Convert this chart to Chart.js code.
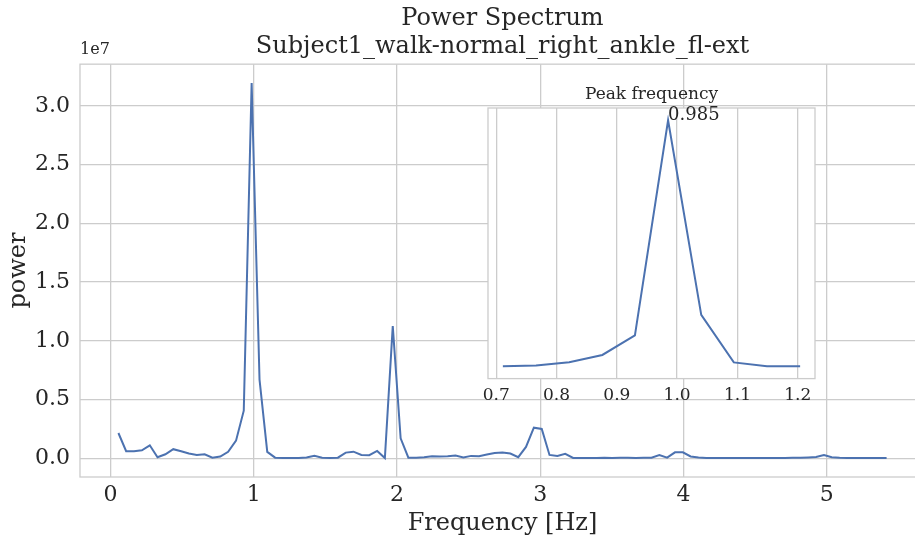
<!DOCTYPE html>
<html>
<head>
<meta charset="utf-8">
<script src="https://cdn.jsdelivr.net/npm/chart.js@4.4.0/dist/chart.umd.min.js"></script>
<style>
  html, body { margin: 0; padding: 0; background: #ffffff; overflow: hidden; }
  #wrap { position: relative; width: 915px; height: 540px; overflow: hidden; }
  #mainChart { position: absolute; left: 0; top: 0; }
  #insetChart { position: absolute; left: 470px; top: 80px; }
</style>
</head>
<body>
<div id="wrap">
  <!-- the axes run a little past the right edge, as in the cropped original -->
  <canvas id="mainChart" width="925" height="540"></canvas>
  <canvas id="insetChart" width="360" height="333"></canvas>
</div>
<script>
// #-------------- Data --------------#

// FFT bin frequencies (Hz)
const freqHz = [
  0.055, 0.109, 0.164, 0.219, 0.274, 0.328, 0.383, 0.438, 0.493, 0.547,
  0.602, 0.657, 0.711, 0.766, 0.821, 0.876, 0.930, 0.985, 1.040, 1.094,
  1.149, 1.204, 1.259, 1.313, 1.368, 1.423, 1.477, 1.532, 1.587, 1.642,
  1.696, 1.751, 1.806, 1.861, 1.915, 1.970, 2.025, 2.079, 2.134, 2.189,
  2.244, 2.298, 2.353, 2.408, 2.463, 2.517, 2.572, 2.627, 2.681, 2.736,
  2.791, 2.846, 2.900, 2.955, 3.010, 3.064, 3.119, 3.174, 3.229, 3.283,
  3.338, 3.393, 3.447, 3.502, 3.557, 3.612, 3.666, 3.721, 3.776, 3.831,
  3.885, 3.940, 3.995, 4.049, 4.104, 4.159, 4.214, 4.268, 4.323, 4.378,
  4.433, 4.487, 4.542, 4.597, 4.651, 4.706, 4.761, 4.816, 4.870, 4.925,
  4.980, 5.034, 5.089, 5.144, 5.199, 5.253, 5.308, 5.363, 5.417
];

// Power per bin, in units of 1e6
const powerE6 = [
  2.15, 0.60, 0.60, 0.68, 1.10, 0.08, 0.34, 0.77, 0.60, 0.40,
  0.28, 0.34, 0.05, 0.14, 0.55, 1.50, 4.05, 31.97, 6.70, 0.54,
  0.05, 0.03, 0.03, 0.03, 0.06, 0.20, 0.05, 0.01, 0.05, 0.48,
  0.56, 0.28, 0.26, 0.62, 0.02, 11.25, 1.70, 0.05, 0.05, 0.08,
  0.17, 0.14, 0.17, 0.23, 0.06, 0.20, 0.17, 0.31, 0.45, 0.48,
  0.40, 0.09, 0.96, 2.60, 2.50, 0.28, 0.20, 0.37, 0.03, 0.02,
  0.03, 0.02, 0.04, 0.03, 0.05, 0.04, 0.03, 0.04, 0.05, 0.27,
  0.05, 0.50, 0.50, 0.15, 0.06, 0.03, 0.02, 0.03, 0.02, 0.02,
  0.03, 0.02, 0.03, 0.03, 0.02, 0.03, 0.04, 0.05, 0.07, 0.10,
  0.28, 0.08, 0.04, 0.03, 0.03, 0.02, 0.03, 0.02, 0.03
];

// Tick values
const mainXTicks  = [0, 1, 2, 3, 4, 5];
const mainYTicks  = [0, 0.5e7, 1.0e7, 1.5e7, 2.0e7, 2.5e7, 3.0e7];
const insetXTicks = [0.7, 0.8, 0.9, 1.0, 1.1, 1.2];

// Inset window (bins shown around the peak)
const insetFirstBin = 12;
const insetLastBin  = 21;

// Texts
const titleLines  = ['Power Spectrum', 'Subject1_walk-normal_right_ankle_fl-ext'];
const xLabel      = 'Frequency [Hz]';
const yLabel      = 'power';
const insetTitle  = 'Peak frequency';

// #-------------- Styling --------------#
const serif     = "'DejaVu Serif', serif";
const textColor = '#262626';
const gridColor = '#cccccc';
const lineColor = '#4c72b0';

// #-------------- Helpers --------------#
const powerValues = powerE6.map(v => v * 1e6);
const mainPoints  = freqHz.map((f, i) => ({ x: f, y: powerValues[i] }));
const insetPoints = mainPoints.slice(insetFirstBin, insetLastBin + 1);

// matplotlib style 5% margins
function withMargin(lo, hi) {
  const pad = (hi - lo) * 0.05;
  return [lo - pad, hi + pad];
}
const [mainXMin, mainXMax] = withMargin(freqHz[0], freqHz[freqHz.length - 1]);
const [mainYMin, mainYMax] = withMargin(0, Math.max(...powerValues));
const [inXMin, inXMax]     = withMargin(insetPoints[0].x, insetPoints[insetPoints.length - 1].x);
const [inYMin, inYMax]     = withMargin(Math.min(...insetPoints.map(p => p.y)),
                                        Math.max(...insetPoints.map(p => p.y)));
const peakPoint = insetPoints.reduce((a, b) => (b.y > a.y ? b : a));

// Light frame around the plotting area
const framePlugin = {
  id: 'frame',
  beforeDraw(chart, args, opts) {
    const a = chart.chartArea, ctx = chart.ctx;
    if (opts.fill) {
      ctx.save();
      ctx.fillStyle = opts.fill;
      ctx.fillRect(a.left, a.top, a.right - a.left, a.bottom - a.top);
      ctx.restore();
    }
  },
  beforeDatasetsDraw(chart) {
    const a = chart.chartArea, ctx = chart.ctx;
    ctx.save();
    ctx.strokeStyle = gridColor;
    ctx.lineWidth = 1.3;
    ctx.strokeRect(a.left, a.top, a.right - a.left, a.bottom - a.top);
    ctx.restore();
  }
};

// "1e7" offset text above the y axis
const offsetTextPlugin = {
  id: 'offsetText',
  afterDraw(chart) {
    const a = chart.chartArea, ctx = chart.ctx;
    ctx.save();
    ctx.font = '16px ' + serif;
    ctx.fillStyle = textColor;
    ctx.textAlign = 'left';
    ctx.textBaseline = 'alphabetic';
    ctx.fillText('1e7', a.left, a.top - 10);
    ctx.restore();
  }
};

// Inset title and peak annotation
const insetTextPlugin = {
  id: 'insetText',
  afterDraw(chart) {
    const a = chart.chartArea, ctx = chart.ctx;
    ctx.save();
    ctx.fillStyle = textColor;
    ctx.font = '17px ' + serif;
    ctx.textAlign = 'center';
    ctx.textBaseline = 'alphabetic';
    ctx.fillText(insetTitle, (a.left + a.right) / 2, a.top - 9);
    const px = chart.scales.x.getPixelForValue(peakPoint.x);
    const py = chart.scales.y.getPixelForValue(peakPoint.y);
    ctx.font = '18px ' + serif;
    ctx.textAlign = 'left';
    ctx.fillText(peakPoint.x.toFixed(3), px, py);
    ctx.restore();
  }
};

// #-------------- Main chart --------------#
new Chart(document.getElementById('mainChart'), {
  type: 'line',
  data: {
    datasets: [{
      data: mainPoints,
      borderColor: lineColor,
      borderWidth: 2,
      pointRadius: 0,
      tension: 0,
      fill: false
    }]
  },
  options: {
    responsive: false,
    animation: false,
    layout: { padding: 0 },
    plugins: {
      legend: { display: false },
      tooltip: { enabled: false },
      title: {
        display: true,
        fullSize: false,
        text: titleLines,
        color: textColor,
        font: { family: serif, size: 24, weight: 'normal', lineHeight: 1.17 },
        padding: { top: 5, bottom: 3 }
      }
    },
    scales: {
      x: {
        type: 'linear',
        min: mainXMin,
        max: mainXMax,
        afterBuildTicks: s => { s.ticks = mainXTicks.map(v => ({ value: v })); },
        afterFit: s => { s.height = 63; },
        grid: { color: gridColor, lineWidth: 1.3, drawTicks: false },
        border: { display: false },
        ticks: { color: textColor, font: { family: serif, size: 22 }, padding: 5,
                 maxRotation: 0, callback: v => String(v) },
        title: { display: true, text: xLabel, color: textColor,
                 font: { family: serif, size: 24 }, padding: { top: 0, bottom: 2 } }
      },
      y: {
        min: mainYMin,
        max: mainYMax,
        afterBuildTicks: s => { s.ticks = mainYTicks.map(v => ({ value: v })); },
        afterFit: s => { s.width = 80; },
        grid: { color: gridColor, lineWidth: 1.3, drawTicks: false },
        border: { display: false },
        ticks: { color: textColor, font: { family: serif, size: 22 }, padding: 10,
                 callback: v => (v / 1e7).toFixed(1) },
        title: { display: true, text: yLabel, color: textColor,
                 font: { family: serif, size: 24 }, padding: { top: 4, bottom: 0 } }
      }
    }
  },
  plugins: [framePlugin, offsetTextPlugin]
});

// #-------------- Inset chart --------------#
new Chart(document.getElementById('insetChart'), {
  type: 'line',
  data: {
    datasets: [{
      data: insetPoints,
      borderColor: lineColor,
      borderWidth: 2,
      pointRadius: 0,
      tension: 0,
      fill: false
    }]
  },
  options: {
    responsive: false,
    animation: false,
    layout: { padding: { left: 18, right: 15, top: 28, bottom: 0 } },
    plugins: {
      legend: { display: false },
      tooltip: { enabled: false },
      frame: { fill: '#ffffff' }
    },
    scales: {
      x: {
        type: 'linear',
        min: inXMin,
        max: inXMax,
        afterBuildTicks: s => { s.ticks = insetXTicks.map(v => ({ value: v })); },
        grid: { color: gridColor, lineWidth: 1.3, drawTicks: false },
        border: { display: false },
        ticks: { color: textColor, font: { family: serif, size: 17 }, padding: 7,
                 maxRotation: 0, callback: v => v.toFixed(1) }
      },
      y: {
        display: false,
        min: inYMin,
        max: inYMax
      }
    }
  },
  plugins: [framePlugin, insetTextPlugin]
});
</script>
</body>
</html>
